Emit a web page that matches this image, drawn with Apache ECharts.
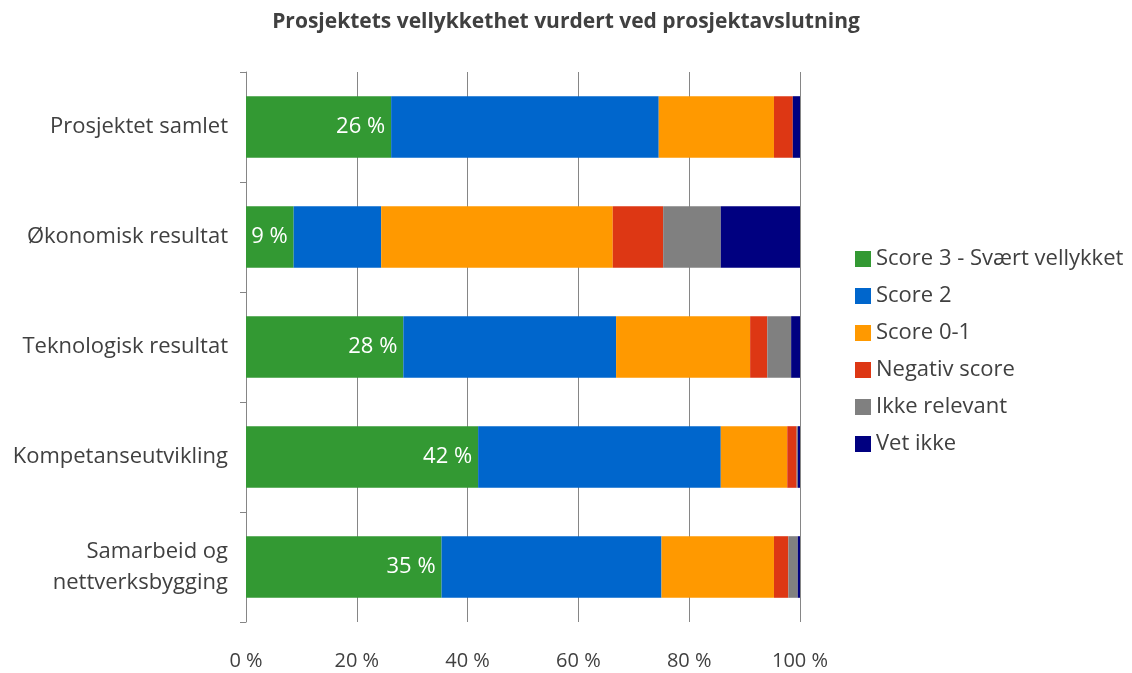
<!DOCTYPE html>
<html>
<head>
<meta charset="utf-8">
<script src="https://cdn.jsdelivr.net/npm/echarts@6/dist/echarts.min.js"></script>
<style>html,body{margin:0;padding:0;background:#fff}#c{width:1132px;height:673px}</style>
</head>
<body>
<div id="c"></div>
<script>
const categories = ['Prosjektet samlet', 'Økonomisk resultat', 'Teknologisk resultat', 'Kompetanseutvikling', 'Samarbeid og\nnettverksbygging'];
const score3 = [26.2, 8.6, 28.4, 41.9, 35.3];
const score2 = [48.3, 15.8, 38.4, 43.8, 39.7];
const score01 = [20.8, 41.8, 24.2, 12.0, 20.3];
const negativ = [3.4, 9.1, 3.1, 1.7, 2.6];
const ikkeRelevant = [0, 10.4, 4.3, 0.2, 1.7];
const vetIkke = [1.3, 14.3, 1.6, 0.4, 0.4];
const xTicks = ['0 %', '20 %', '40 %', '60 %', '80 %', '100 %'];

const FONT = 'Open Sans';
const TXT = '#404040';
const seriesDefs = [
  ['Score 3 - Svært vellykket', score3, '#339933'],
  ['Score 2', score2, '#0066CC'],
  ['Score 0-1', score01, '#FF9900'],
  ['Negativ score', negativ, '#DD3714'],
  ['Ikke relevant', ikkeRelevant, '#808080'],
  ['Vet ikke', vetIkke, '#000080']
];

const chart = echarts.init(document.getElementById('c'));
chart.setOption({
  animation: false,
  backgroundColor: '#fff',
  title: {
    text: 'Prosjektets vellykkethet vurdert ved prosjektavslutning',
    left: 'center', top: 7,
    textStyle: { fontFamily: FONT, fontWeight: 'bold', fontSize: 21, color: TXT }
  },
  legend: {
    orient: 'vertical', left: 850, top: 243,
    itemWidth: 16, itemHeight: 16, itemGap: 15,
    icon: 'rect',
    textStyle: { fontFamily: FONT, fontSize: 22, color: TXT, lineHeight: 22, padding: [0,0,0,0] },
    data: seriesDefs.map(s => s[0])
  },
  grid: { left: 246, right: 332, top: 72, bottom: 51 },
  xAxis: {
    type: 'value', min: 0, max: 100, interval: 20,
    axisLine: { show: false }, axisTick: { show: false },
    splitLine: { show: true, lineStyle: { color: '#868686', width: 1 } },
    axisLabel: {
      margin: 29, fontFamily: FONT, fontSize: 20, color: TXT,
      formatter: (v) => xTicks[Math.round(v / 20)]
    }
  },
  yAxis: {
    type: 'category', data: categories, inverse: true,
    axisLine: { show: true, lineStyle: { color: '#868686', width: 1 } },
    axisTick: { show: true, length: 6, lineStyle: { color: '#868686' } },
    axisLabel: { margin: 18, fontFamily: FONT, fontSize: 22, color: TXT, lineHeight: 31, align: 'right' }
  },
  series: seriesDefs.map((s, i) => ({
    name: s[0], type: 'bar', stack: 'total', data: s[1],
    barCategoryGap: '44%',
    itemStyle: { color: s[2] },
    label: i === 0 ? {
      show: true, position: 'insideRight', distance: 6,
      color: '#fff', fontFamily: FONT, fontSize: 22,
      formatter: (p) => Math.round(p.value) + ' %'
    } : { show: false }
  }))
});
</script>
</body>
</html>
